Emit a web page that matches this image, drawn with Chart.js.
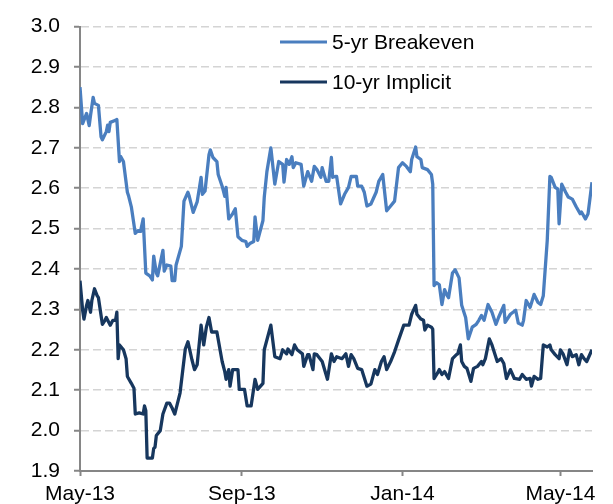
<!DOCTYPE html>
<html>
<head>
<meta charset="utf-8">
<style>
  html, body { margin: 0; padding: 0; background: #fff; }
  #wrap { width: 613px; height: 504px; }
</style>
</head>
<body>
<div id="wrap">
  <canvas id="myChart" width="613" height="504"></canvas>
</div>

<script src="https://cdn.jsdelivr.net/npm/chart.js"></script>
<script>
// days since 1 May 2013
var tickDays = [0, 123, 245, 365];
var tickLabels = ['May-13', 'Sep-13', 'Jan-14', 'May-14'];

// 5-yr Breakeven
var be5Days = [0, 2, 5, 7, 8, 10, 11, 14, 16, 17, 20, 21, 22, 23, 27, 28, 30, 31, 33, 36, 37, 39, 42, 44, 46, 48,
  50, 53, 55, 56, 58, 59, 63, 64, 66, 69, 70, 72, 73, 77, 79, 82, 83, 86, 89, 92, 93, 95, 98, 99, 101, 104, 105,
  108, 110, 111, 113, 116, 118, 120, 123, 126, 127, 129, 132, 133, 135, 139, 140, 142, 145, 148, 151, 154, 155,
  157, 159, 161, 162, 164, 168, 170, 173, 176, 178, 180, 183, 184, 187, 189, 191, 192, 194, 195, 198, 201, 204,
  206, 210, 211, 214, 216, 218, 221, 225, 227, 230, 233, 236, 239, 242, 245, 248, 251, 252, 255, 256, 259, 260,
  264, 267, 268, 269, 271, 273, 275, 277, 279, 280, 283, 285, 288, 290, 293, 295, 298, 301, 303, 305, 307, 310,
  313, 316, 318, 322, 323, 327, 331, 333, 336, 337, 339, 342, 345, 348, 350, 352, 355, 357, 358, 361, 363, 364,
  366, 369, 371, 374, 377, 380, 381, 384, 386, 389];
var be5Vals = [2.85, 2.76, 2.785, 2.755, 2.78, 2.825, 2.81, 2.805, 2.727, 2.72, 2.74, 2.756, 2.74, 2.763, 2.768,
  2.77, 2.666, 2.678, 2.666, 2.59, 2.58, 2.554, 2.488, 2.495, 2.493, 2.524,
  2.39, 2.383, 2.373, 2.432, 2.39, 2.383, 2.446, 2.395, 2.41, 2.407, 2.371, 2.371, 2.41, 2.456, 2.568, 2.59, 2.58,
  2.54, 2.566, 2.627, 2.585, 2.593, 2.683, 2.695, 2.676, 2.666, 2.634,
  2.605, 2.58, 2.602, 2.524, 2.537, 2.549, 2.48, 2.471, 2.468, 2.456, 2.463, 2.468, 2.529, 2.471, 2.52, 2.578,
  2.641, 2.70, 2.61, 2.666, 2.659, 2.615,
  2.671, 2.659, 2.678, 2.651, 2.663, 2.659, 2.605, 2.641, 2.617, 2.654, 2.646, 2.627, 2.651, 2.617, 2.617, 2.676,
  2.627, 2.629, 2.629, 2.561, 2.585, 2.602,
  2.629, 2.629, 2.605, 2.605, 2.59, 2.556, 2.561, 2.59, 2.617, 2.634, 2.544, 2.556, 2.568, 2.651, 2.663, 2.654,
  2.641, 2.671, 2.702, 2.678, 2.671, 2.651,
  2.646, 2.634, 2.61, 2.359, 2.366, 2.361, 2.312, 2.349, 2.334, 2.329, 2.39, 2.398, 2.378, 2.31, 2.28, 2.227,
  2.256, 2.263, 2.273, 2.285, 2.273, 2.312,
  2.293, 2.263, 2.28, 2.31, 2.268, 2.288, 2.298, 2.266, 2.261, 2.273, 2.322, 2.305, 2.337, 2.317, 2.312, 2.334,
  2.471, 2.629, 2.627, 2.602, 2.598, 2.512,
  2.61, 2.59, 2.578, 2.573, 2.554, 2.537, 2.541, 2.524, 2.537, 2.615];

// 10-yr Implicit
var imp10Days = [0, 2, 3, 5, 6, 8, 9, 11, 13, 14, 17, 19, 20, 23, 25, 27, 28, 29, 30, 33, 35, 36, 39, 41, 42, 45,
  48, 49, 50, 51, 55, 56, 57, 58, 61, 63, 66, 68, 70, 72, 76, 80, 82, 85, 87, 89, 92, 94, 96, 98, 100, 104, 108,
  110, 111, 113, 114, 116, 120, 121, 125, 127, 130, 133, 135, 139, 140, 145, 148, 152, 154, 157, 158, 161, 163,
  165, 169, 170, 173, 174, 177, 178, 180, 184, 188, 191, 193, 195, 199, 202, 204, 206, 208, 211, 214, 218, 221,
  224, 226, 229, 231, 233, 236, 239, 242, 246, 250, 252, 255, 256, 259, 261, 262, 264, 267, 268, 269, 271, 273,
  275, 277, 280, 283, 286, 287, 289, 290, 292, 294, 297, 299, 302, 305, 306, 308, 311, 313, 317, 320, 322, 324,
  327, 330, 334, 336, 339, 342, 343, 345, 348, 350, 352, 355, 357, 358, 361, 364, 365, 367, 370, 372, 374, 377,
  379, 381, 383, 385, 389];
var imp10Vals = [2.371, 2.298, 2.276, 2.31, 2.322, 2.293, 2.322, 2.351, 2.334, 2.329, 2.263, 2.273, 2.28, 2.261,
  2.273, 2.273, 2.293, 2.178, 2.212, 2.2, 2.178, 2.134, 2.117, 2.105, 2.041, 2.044,
  2.041, 2.061, 2.049, 1.932, 1.932, 1.956, 1.959, 1.988, 2.0, 2.041, 2.068, 2.068, 2.056, 2.041, 2.093, 2.202,
  2.22, 2.176, 2.151, 2.163, 2.261, 2.212, 2.256, 2.28, 2.244, 2.244, 2.171,
  2.146, 2.127, 2.151, 2.11, 2.151, 2.151, 2.102, 2.102, 2.061, 2.061, 2.127, 2.102, 2.117, 2.2, 2.261, 2.183,
  2.178, 2.2, 2.19, 2.202, 2.188, 2.212,
  2.2, 2.19, 2.159, 2.188, 2.188, 2.151, 2.19, 2.188, 2.171, 2.127, 2.19, 2.171, 2.183, 2.178, 2.19, 2.159, 2.188,
  2.178, 2.154, 2.151, 2.11, 2.115,
  2.151, 2.139, 2.171, 2.183, 2.151, 2.171, 2.195, 2.224, 2.261, 2.261, 2.288, 2.31, 2.288, 2.276, 2.273, 2.249,
  2.261, 2.256, 2.251, 2.129, 2.139, 2.151,
  2.139, 2.146, 2.129, 2.178, 2.188, 2.19, 2.212, 2.171, 2.159, 2.154, 2.122, 2.154, 2.159, 2.171, 2.163, 2.178,
  2.227, 2.212, 2.171, 2.178, 2.166, 2.129,
  2.151, 2.129, 2.127, 2.139, 2.127, 2.129, 2.11, 2.134, 2.127, 2.129, 2.212, 2.207, 2.212, 2.2, 2.188, 2.178,
  2.2, 2.19, 2.163, 2.2, 2.183, 2.188,
  2.163, 2.188, 2.178, 2.171, 2.2];

function pairs(days, vals) {
  return days.map(function(d, i) { return { x: d, y: vals[i] }; });
}

var FONT = 'Liberation Sans, Arial, sans-serif';

// legend drawn inside the plot, like the original
var innerLegend = {
  id: 'innerLegend',
  afterDatasetsDraw: function(chart) {
    var ctx = chart.ctx;
    ctx.save();
    ctx.font = '21px ' + FONT;
    ctx.textBaseline = 'middle';
    chart.data.datasets.forEach(function(ds, i) {
      var y = 42 + i * 40;
      ctx.strokeStyle = ds.borderColor;
      ctx.lineWidth = 3;
      ctx.beginPath();
      ctx.moveTo(280, y);
      ctx.lineTo(327, y);
      ctx.stroke();
      ctx.fillStyle = '#000';
      ctx.fillText(ds.label, 332, y + 1);
    });
    ctx.restore();
  }
};

var ctx = document.getElementById('myChart').getContext('2d');
var chart = new Chart(ctx, {
  type: 'line',
  data: {
    datasets: [{
      label: '5-yr Breakeven',
      data: pairs(be5Days, be5Vals),
      borderColor: '#4a7ebf',
      borderWidth: 3.3,
      pointRadius: 0,
      tension: 0,
      borderJoinStyle: 'round'
    }, {
      label: '10-yr Implicit',
      data: pairs(imp10Days, imp10Vals),
      borderColor: '#17375e',
      borderWidth: 3.3,
      pointRadius: 0,
      tension: 0,
      borderJoinStyle: 'round'
    }]
  },
  options: {
    responsive: false,
    animation: false,
    layout: { padding: { top: 20, right: 21, bottom: 0, left: 0 } },
    plugins: {
      legend: { display: false },
      tooltip: { enabled: false }
    },
    scales: {
      x: {
        type: 'linear',
        min: 0,
        max: 389,
        afterBuildTicks: function(axis) {
          axis.ticks = tickDays.map(function(d) { return { value: d }; });
        },
        afterFit: function(axis) { axis.height = 33; },
        ticks: {
          autoSkip: false,
          maxRotation: 0,
          padding: 6,
          color: '#000',
          font: { family: FONT, size: 21 },
          callback: function(value) {
            var i = tickDays.indexOf(value);
            return i >= 0 ? tickLabels[i] : '';
          }
        },
        grid: { drawOnChartArea: false, drawTicks: true, tickLength: 5, tickColor: '#868686', tickWidth: 2 },
        border: { display: true, color: '#868686', width: 2 }
      },
      y: {
        min: 1.9,
        max: 3.0,
        afterFit: function(axis) { axis.width = 80; },
        ticks: {
          stepSize: 0.1,
          padding: 14,
          color: '#000',
          font: { family: FONT, size: 21 },
          callback: function(v) { return v.toFixed(1); }
        },
        grid: { color: '#d4d4d4', lineWidth: 1.5, tickLength: 6, tickColor: '#868686', tickWidth: 2, tickBorderDash: [] },
        border: { display: true, color: '#868686', width: 2, dash: [8, 4] }
      }
    }
  },
  plugins: [innerLegend]
});
</script>
</body>
</html>
